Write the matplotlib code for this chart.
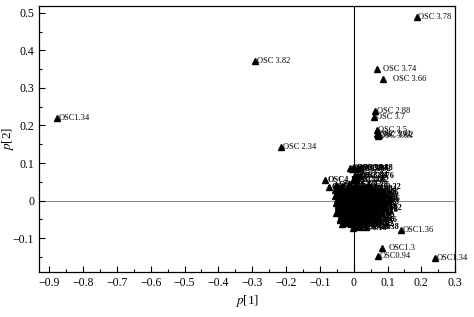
import matplotlib
matplotlib.use("Agg")
import matplotlib.pyplot as plt
from matplotlib.ticker import MultipleLocator, FuncFormatter

plt.rcParams['font.family'] = ['Liberation Serif', 'DejaVu Serif']
plt.rcParams['mathtext.fontset'] = 'stix'

# Labelled outlying loadings
out_x = [-0.876, -0.291, -0.214, 0.187, 0.069, 0.088, 0.064, 0.061, 0.069, 0.068, 0.072, 0.075,
         0.140, 0.083, 0.072, 0.241]
out_y = [0.220, 0.372, 0.143, 0.489, 0.350, 0.324, 0.239, 0.222, 0.188, 0.176, 0.172, 0.174,
         -0.077, -0.127, -0.148, -0.154]
out_lab = ["OSC1.34", "OSC 3.82", "OSC 2.34", "OSC 3.78", "OSC 3.74", "OSC 3.66", "OSC 2.88",
           "OSC 3.7", "OSC 3.5", "OSC 3.61", "OSC 3.63", "OSC 3.62",
           "OSC1.36", "OSC1.3", "OSC0.94", "OSC1.34"]
out_dx = [1, 1, 1, 1, 4, 7, 1, 1, 1, 1, 1, 1, 1, 5, 1, 1]

# Dense central cluster
cl_x = [-0.012, -0.006, 0.002, 0.010, 0.018, 0.004, 0.012, 0.020, -0.084, -0.002, 0.006,
        -0.072, -0.052, -0.035, -0.015, 0.004, 0.040,
        -0.056, -0.041, -0.027, -0.012, 0.003, 0.017, 0.030,
        -0.050, -0.036, -0.021, -0.007, 0.008, 0.022, 0.036,
        -0.054, -0.039, -0.025, -0.010, 0.005, 0.019, 0.033,
        -0.049, -0.034, -0.019, -0.004, 0.011, 0.025, 0.038,
        -0.053, -0.038, -0.024, -0.009, 0.006, 0.020, 0.034,
        -0.047, -0.032, -0.018, -0.003, 0.012, 0.026, 0.045,
        -0.046, -0.036, -0.022, -0.007, 0.007, 0.021, 0.031,
        -0.051, -0.030, -0.016, -0.002, 0.013, 0.027,
        -0.040, -0.033, -0.019, -0.005, 0.009, 0.023,
        -0.040, -0.028, -0.014, 0.000, 0.015, 0.028,
        -0.035, -0.022, -0.008, 0.006, 0.019,
        -0.001, 0.010, 0.020, 0.035,
        -0.048, -0.033, -0.019, -0.004, 0.010, 0.024,
        -0.043, -0.029, -0.014, 0.001, 0.015, 0.029,
        -0.046, -0.032, -0.017, -0.002, 0.013, 0.027,
        -0.041, -0.027, -0.012, 0.003, 0.018, 0.031,
        -0.045, -0.030, -0.016, -0.001, 0.014, 0.028,
        -0.039, -0.025, -0.010, 0.005, 0.019, 0.033,
        -0.043, -0.028, -0.013, 0.002, 0.016,
        -0.036, -0.023, -0.009, 0.008, 0.021,
        -0.031, -0.017, -0.003, 0.012,
        -0.028, -0.014, 0.001, 0.013]
cl_y = [0.086, 0.084, 0.087, 0.085, 0.086, 0.067, 0.065, 0.066, 0.056, 0.056, 0.054,
        0.036, 0.042, 0.040, 0.044, 0.041, 0.035,
        0.028, 0.030, 0.026, 0.029, 0.027, 0.031, 0.028,
        0.019, 0.021, 0.018, 0.020, 0.017, 0.019, 0.021,
        0.011, 0.009, 0.012, 0.010, 0.013, 0.011, 0.009,
        0.002, 0.004, 0.001, 0.003, 0.000, 0.002, 0.004,
        -0.007, -0.005, -0.008, -0.006, -0.009, -0.007, -0.005,
        -0.016, -0.014, -0.017, -0.015, -0.018, -0.016, -0.020,
        -0.024, -0.025, -0.023, -0.026, -0.024, -0.027, -0.025,
        -0.034, -0.032, -0.035, -0.033, -0.036, -0.034,
        -0.050, -0.042, -0.044, -0.041, -0.045, -0.043,
        -0.052, -0.050, -0.053, -0.051, -0.054, -0.052,
        -0.061, -0.060, -0.062, -0.059, -0.063,
        -0.072, -0.068, -0.070, -0.071,
        0.024, 0.023, 0.025, 0.022, 0.024, 0.023,
        0.015, 0.014, 0.016, 0.015, 0.013, 0.016,
        0.006, 0.007, 0.005, 0.007, 0.006, 0.005,
        -0.003, -0.002, -0.004, -0.002, -0.003, -0.001,
        -0.011, -0.012, -0.010, -0.012, -0.011, -0.013,
        -0.020, -0.021, -0.019, -0.021, -0.020, -0.022,
        -0.029, -0.030, -0.028, -0.030, -0.029,
        -0.038, -0.039, -0.037, -0.039, -0.038,
        -0.047, -0.048, -0.046, -0.048,
        -0.056, -0.057, -0.055, -0.064]
cl_ppm = ["3.98", "3.96", "3.94", "3.92", "3.88", "3.84", "3.8", "3.76", "4.1", "4.06", "4.02",
          "3.58", "3.54", "3.46", "3.42", "3.38", "3.22",
          "3.18", "3.14", "3.1", "3.06", "3.02", "2.98", "2.94",
          "2.9", "2.86", "2.82", "2.78", "2.74", "2.7", "2.66",
          "2.62", "2.58", "2.54", "2.5", "2.46", "2.42", "2.38",
          "2.3", "2.26", "2.22", "2.18", "2.14", "2.1", "2.06",
          "2.02", "1.98", "1.94", "1.9", "1.86", "1.82", "1.78",
          "1.74", "1.7", "1.66", "1.62", "1.58", "1.54", "3.82",
          "1.5", "1.46", "1.42", "1.38", "1.26", "1.22", "1.18",
          "1.14", "1.1", "1.06", "1.02", "0.98", "0.9",
          "0.86", "0.82", "0.78", "4.14", "4.18", "4.22",
          "4.26", "4.3", "4.34", "4.38", "4.42", "4.46",
          "5.02", "5.22", "5.3", "5.38", "6.02",
          "6.18", "6.26", "6.3", "6.38",
          "3.56", "3.52", "3.48", "3.44", "3.4", "3.36",
          "3.34", "3.3", "3.26", "3.2", "3.16", "3.12",
          "3.08", "3.04", "3.0", "2.96", "2.92", "2.84",
          "2.8", "2.76", "2.72", "2.68", "2.64", "2.6",
          "2.56", "2.52", "2.48", "2.44", "2.4", "2.36",
          "2.32", "2.28", "2.24", "2.2", "2.16", "2.12",
          "2.08", "2.04", "2.0", "1.96", "1.92",
          "1.88", "1.84", "1.8", "1.76", "1.72",
          "1.68", "1.64", "1.6", "1.56",
          "1.52", "1.48", "1.44", "1.4"]

fig = plt.figure(figsize=(4.74, 3.17), dpi=100)
ax = fig.add_axes([0.0823, 0.142, 0.878, 0.839])

ax.axvline(0, color='black', lw=0.8, zorder=1)
ax.axhline(0, color='#888888', lw=0.7, zorder=1)

ax.plot(cl_x, cl_y, linestyle='none', marker='^', ms=4, color='black', zorder=3)
for x, y, p in zip(cl_x, cl_y, cl_ppm):
    ax.annotate("OSC" + p, (x, y), xytext=(1.5, 0), textcoords='offset points',
                fontsize=6, fontweight='bold', va='center', ha='left', zorder=3)

ax.plot(out_x, out_y, linestyle='none', marker='^', ms=4, color='black', zorder=3)
for x, y, s, d in zip(out_x, out_y, out_lab, out_dx):
    ax.annotate(s, (x, y), xytext=(d, 0), textcoords='offset points',
                fontsize=6, va='center', ha='left', zorder=3)

ax.set_xlim(-0.93, 0.30)
ax.set_ylim(-0.19, 0.518)
ax.xaxis.set_major_locator(MultipleLocator(0.1))
ax.xaxis.set_minor_locator(MultipleLocator(0.05))
ax.yaxis.set_major_locator(MultipleLocator(0.1))
ax.yaxis.set_minor_locator(MultipleLocator(0.05))

def fmt(v, pos):
    if abs(v) < 1e-9:
        return "0"
    return ("%.1f" % v).replace("-", "\u2212")

ax.xaxis.set_major_formatter(FuncFormatter(fmt))
ax.yaxis.set_major_formatter(FuncFormatter(fmt))
ax.tick_params(which='both', direction='in', top=False, right=False, labelsize=8.5, width=0.8)
ax.tick_params(which='major', length=4)
ax.tick_params(which='minor', length=2)
for s in ax.spines.values():
    s.set_linewidth(0.9)

ax.set_xlabel(r"$p$[1]", fontsize=9.5, labelpad=3)
ax.set_ylabel(r"$p$[2]", fontsize=9.5)
ax.yaxis.set_label_coords(-0.056, 0.5)

fig.savefig("out.png", dpi=100)
